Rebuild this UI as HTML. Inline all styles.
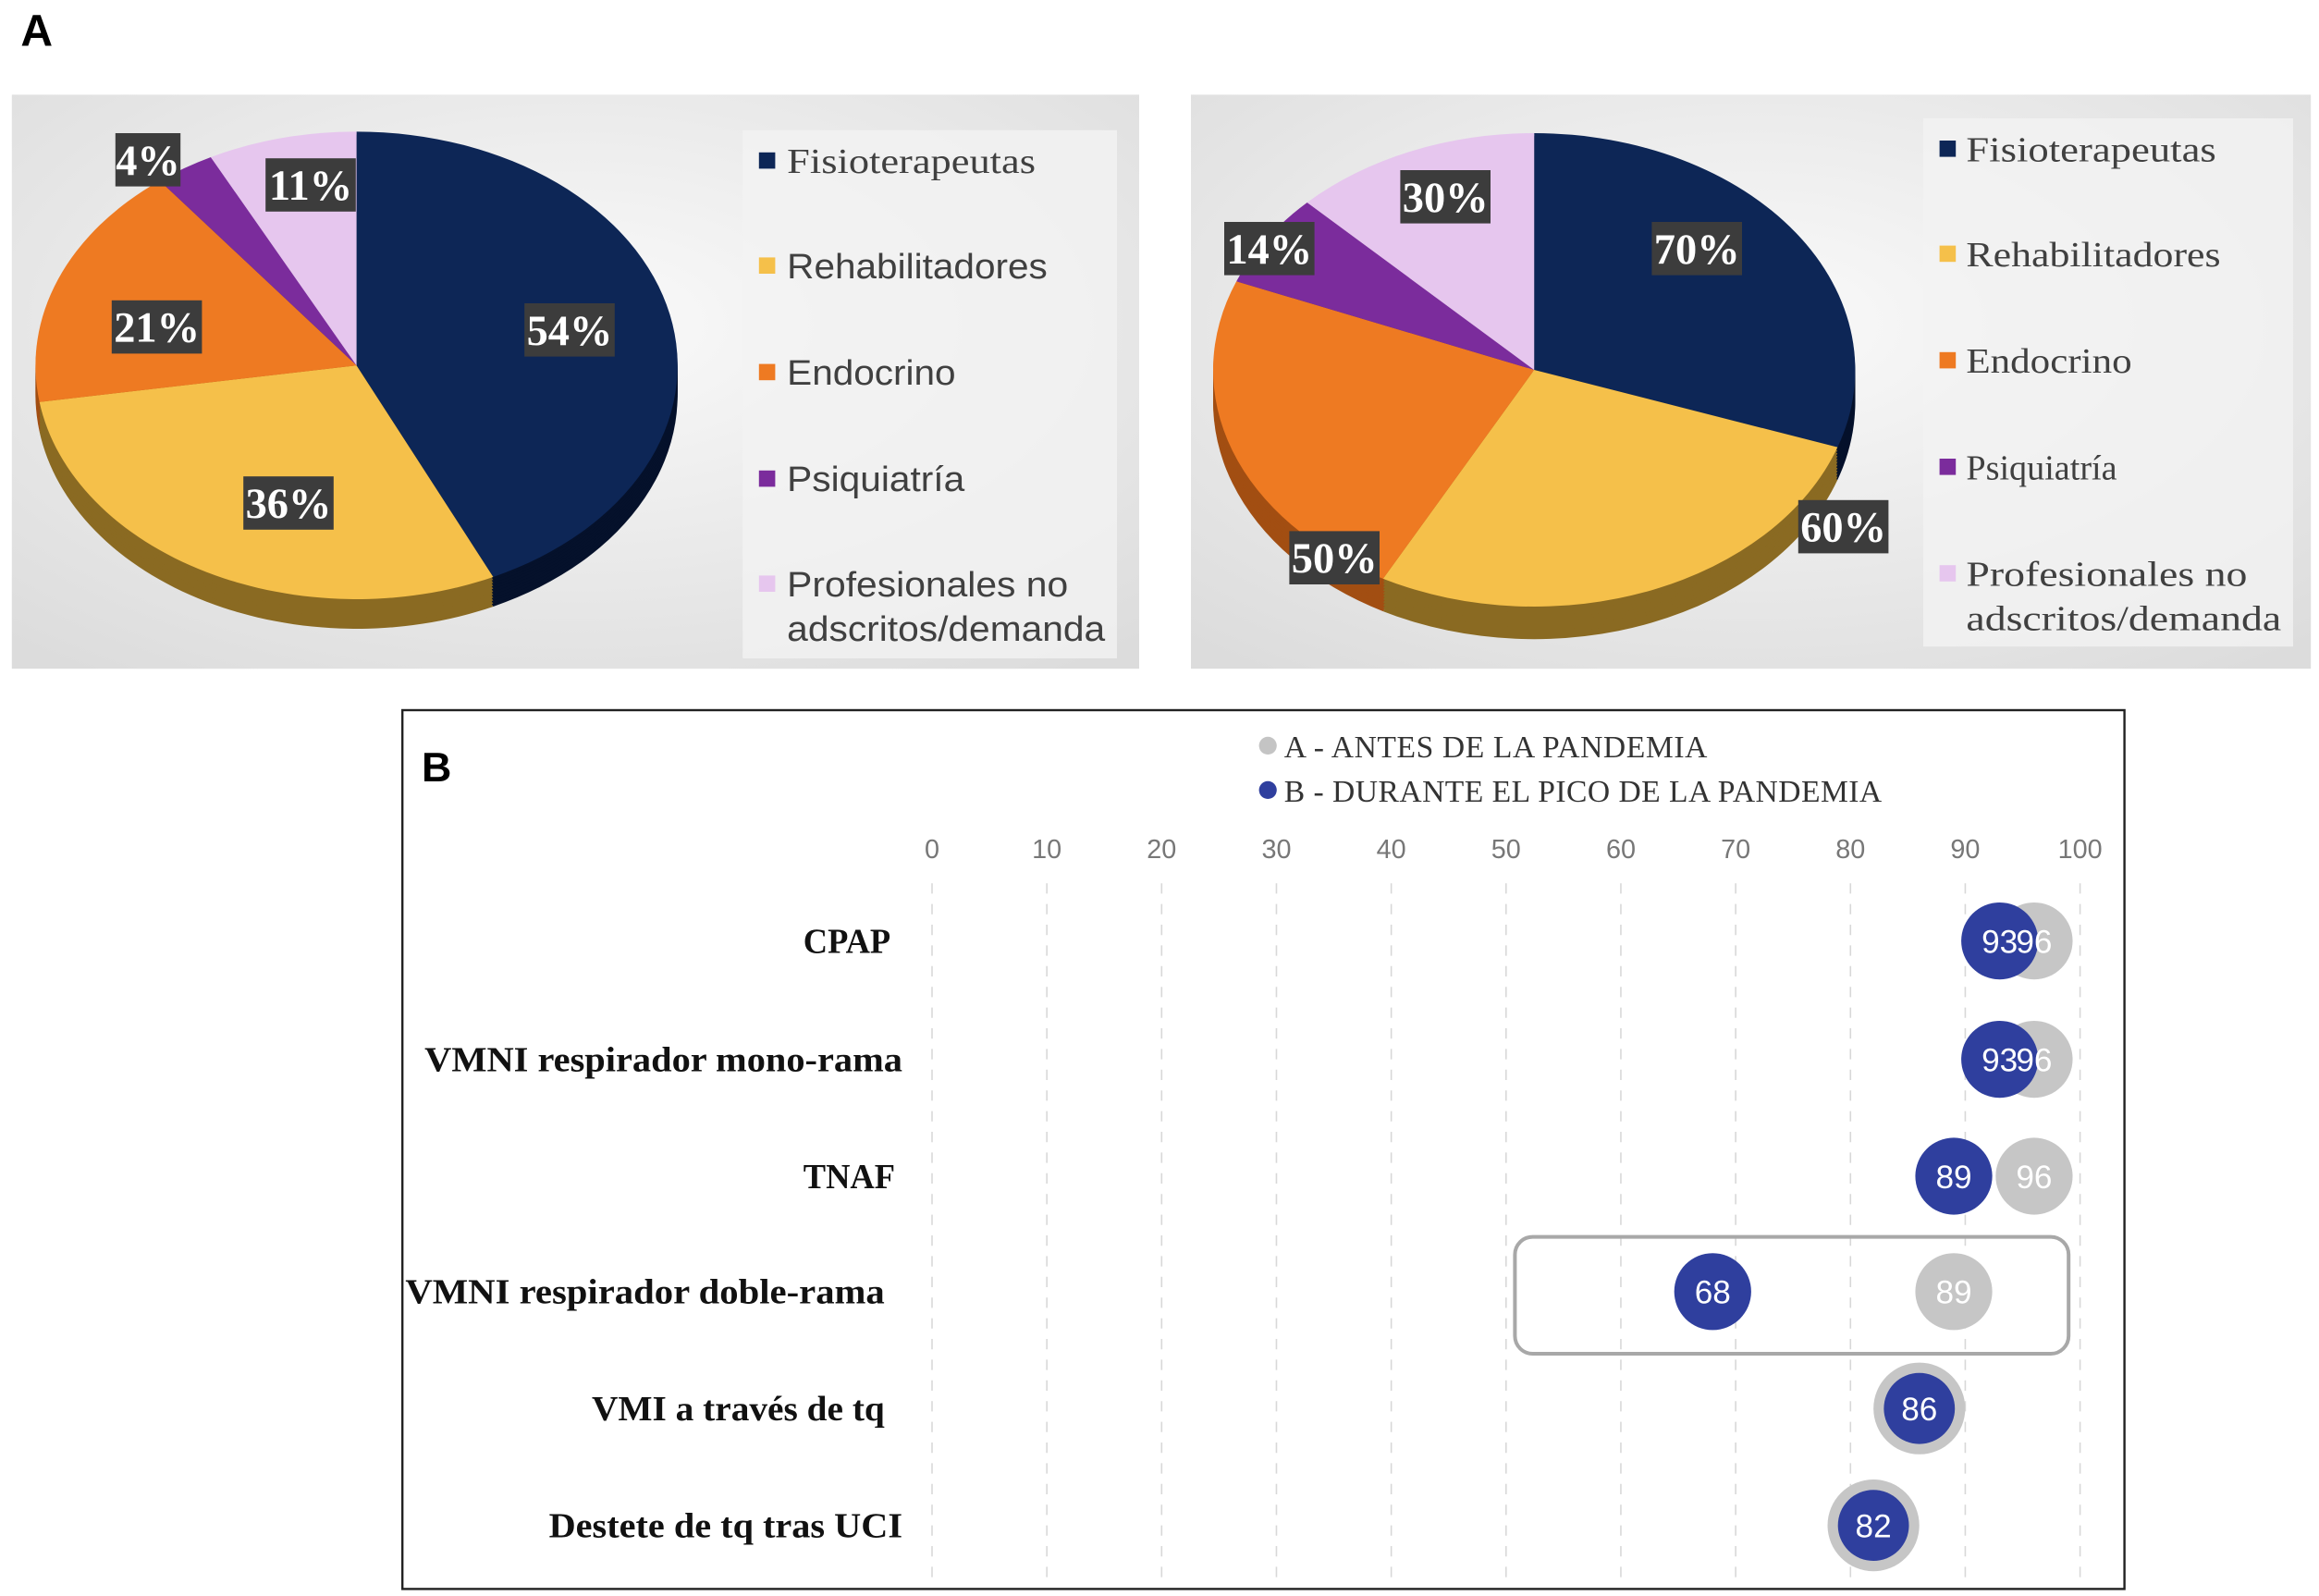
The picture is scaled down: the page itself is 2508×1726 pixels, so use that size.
<!DOCTYPE html>
<html><head><meta charset="utf-8"><style>
html,body{margin:0;padding:0;background:#fff}
svg{display:block}
</style></head><body>
<svg width="2508" height="1726" viewBox="0 0 1567.5 1078.75" xmlns="http://www.w3.org/2000/svg">
<defs>
<radialGradient id="bg" cx="0.5" cy="0.4" r="0.75"><stop offset="0" stop-color="#fafafa"/><stop offset="1" stop-color="#dcdcdc"/></radialGradient>
</defs>
<text x="14" y="31" font-family="Liberation Sans, sans-serif" font-weight="bold" font-size="30" fill="#000">A</text>
<rect x="8" y="64" width="762" height="388" fill="url(#bg)"/>
<rect x="805" y="64" width="757" height="388" fill="url(#bg)"/>
<rect x="502" y="88" width="253" height="357" fill="#f2f2f2" opacity="0.8"/>
<rect x="1300" y="80" width="250" height="357" fill="#f2f2f2" opacity="0.8"/>
<g id="pies"></g>
<rect x="272" y="480" width="1164" height="594" fill="#fff" stroke="#222" stroke-width="1.5"/>
<text x="285" y="528" font-family="Liberation Sans, sans-serif" font-weight="bold" font-size="28" fill="#000">B</text>
<circle cx="857" cy="504" r="6" fill="#c4c4c4"/>
<text x="868" y="512" font-family="Liberation Serif, serif" font-size="21" fill="#333" textLength="286">A - ANTES DE LA PANDEMIA</text>
<circle cx="857" cy="534" r="6" fill="#2f3f9e"/>
<text x="868" y="542" font-family="Liberation Serif, serif" font-size="21" fill="#333" textLength="404">B - DURANTE EL PICO DE LA PANDEMIA</text>
<g id="dot"></g>
</svg>
<script>
const NS='http://www.w3.org/2000/svg';
function mk(parent,tag,attrs){const e=document.createElementNS(NS,tag);for(const k in attrs)e.setAttribute(k,attrs[k]);parent.appendChild(e);return e;}

// ---- Pie data ----
const pieCategories=['Fisioterapeutas','Rehabilitadores','Endocrino','Psiquiatría','Profesionales no adscritos/demanda'];
const leftShares=[43,29.5,17,3,7.5];
const leftLabels=['54%','36%','21%','4%','11%'];
const rightShares=[30.3,27.5,23.3,6.4,12.5];
const rightLabels=['70%','60%','50%','14%','30%'];
const colors=['#0d2656','#f5c04a','#ee7a22','#7b2c9c','#e6c6ee'];
const sideColors=['#05112b','#8a6a22','#a24e12','#4b1862','#b8a0c0'];

const pies=document.getElementById('pies');
function drawPie(id,cx,cy,rx,ry,depth,shares,labels,labelPos){
  const g=mk(pies,'g',{});
  
  
  const tot=shares.reduce((a,b)=>a+b,0);
  const pt=(t,yy)=>[cx+rx*Math.sin(t),yy-ry*Math.cos(t)];
  const arcs=[];let a=0;
  shares.forEach(s=>{const a1=a+s/tot*2*Math.PI;arcs.push([a,a1]);a=a1;});
  function slice(t0,t1,yy,fill){
    const p0=pt(t0,yy),p1=pt(t1,yy);const large=(t1-t0)>Math.PI?1:0;
    return mk(g,'path',{d:`M${cx},${yy}L${p0[0]},${p0[1]}A${rx},${ry} 0 ${large} 1 ${p1[0]},${p1[1]}Z`,fill:fill});
  }
  for(let d=depth;d>0;d-=2){arcs.forEach((ar,i)=>{slice(ar[0],ar[1],cy+d,sideColors[i]);});}
  arcs.forEach((ar,i)=>{const p=slice(ar[0],ar[1],cy,colors[i]);});
  labels.forEach((l,i)=>{
    const [x,y]=labelPos[i];const w=l.length*17+10;
    const r=mk(g,'rect',{x:x-w/2,y:y-18,width:w,height:36,fill:'#3c3c3c'});
    
    
    const t=mk(g,'text',{x:x,y:y+10,'text-anchor':'middle','font-family':'Liberation Serif, serif','font-weight':'bold','font-size':29,fill:'#fff'});
    t.textContent=l;
    
    
  });
}
drawPie('left-pie',241,247,217,158,20,leftShares,leftLabels,[[385,223],[195,340],[106,221],[100,108],[210,125]]);
drawPie('right-pie',1037,250,217,160,22,rightShares,rightLabels,[[1147,168],[1246,356],[902,377],[858,168],[977,133]]);

function legend(id,sx,tx,ys,font,lens){
  const g=mk(pies,'g',{});
  
  
  pieCategories.forEach((c,i)=>{
    const r=mk(g,'rect',{x:sx,y:ys[i]-6,width:11,height:11,fill:colors[i]});
    
    
    const parts=i===4?['Profesionales no','adscritos/demanda']:[c];
    parts.forEach((p,j)=>{
      const t=mk(g,'text',{x:tx,y:ys[i]+8+j*30,'font-family':font(i),'font-size':24,fill:'#404040',textLength:lens[i+j],lengthAdjust:'spacingAndGlyphs'});
      t.textContent=p;
      
      
    });
  });
}
legend('left-legend',513,532,[109,180,252,324,395],i=>i===0?'Liberation Serif, serif':'Liberation Sans, sans-serif',[168,176,114,120,190,215]);
legend('right-legend',1311,1329,[101,172,244,316,388],()=>'Liberation Serif, serif',[169,172,112,102,190,213]);

// ---- Dot chart data ----
const rows=['CPAP','VMNI respirador mono-rama','TNAF','VMNI respirador doble-rama','VMI a través de tq','Destete de tq tras UCI'];
const seriesA=[96,96,96,89,86,82];
const seriesB=[93,93,89,68,86,82];
const ticks=[0,10,20,30,40,50,60,70,80,90,100];
const rowY=[636,716,795,873,952,1031];
const rowLabelRight=[602,610,605,598,598,610];
const rowLabelWidth=[59,323,62,324,198,239];
const xs=v=>630+v*7.76;
const dg=document.getElementById('dot');
ticks.forEach(t=>{
  const l=mk(dg,'line',{x1:xs(t),x2:xs(t),y1:597,y2:1070,stroke:'#d8d8d8','stroke-width':1,'stroke-dasharray':'7 7'});
  
  
  const tx=mk(dg,'text',{x:xs(t),y:580,'text-anchor':'middle','font-family':'Liberation Sans, sans-serif','font-size':18,fill:'#777'});
  tx.textContent=t;
  
  
});
const hl=mk(dg,'rect',{x:xs(50)+6,y:836,width:xs(99)-xs(50)-6,height:79,rx:12,fill:'none',stroke:'#a8a8a8','stroke-width':2.5});


rows.forEach((r,i)=>{
  const y=rowY[i];
  const t=mk(dg,'text',{x:rowLabelRight[i]-rowLabelWidth[i],y:y+8,'font-family':'Liberation Serif, serif','font-weight':'bold','font-size':24,fill:'#111',textLength:rowLabelWidth[i],lengthAdjust:'spacingAndGlyphs'});
  t.textContent=r;
  
  
  const same=seriesA[i]===seriesB[i];
  const ca=mk(dg,'circle',{cx:xs(seriesA[i]),cy:y,r:same?31:26,fill:'#c6c6c6'});
  
  
  const cb=mk(dg,'circle',{cx:xs(seriesB[i]),cy:y,r:same?24:26,fill:'#2f3f9e'});
  
  
  const tb=mk(dg,'text',{x:xs(seriesB[i]),y:y+8,'text-anchor':'middle','font-family':'Liberation Sans, sans-serif','font-size':22,fill:'#fff'});
  tb.textContent=seriesB[i];
  
  
  if(!same){
    const ta=mk(dg,'text',{x:xs(seriesA[i]),y:y+8,'text-anchor':'middle','font-family':'Liberation Sans, sans-serif','font-size':22,fill:'#fff'});
    ta.textContent=seriesA[i];
    
    
  }
});
</script>
</body></html>
